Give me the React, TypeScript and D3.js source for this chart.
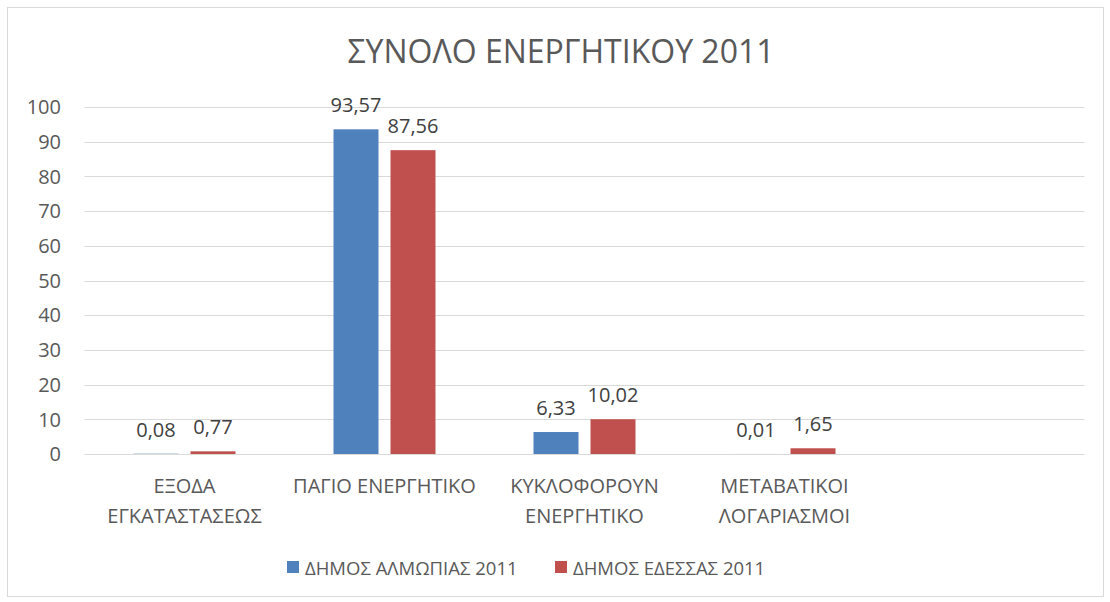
import React from "react";
import * as d3 from "d3";

const categories = [["ΕΞΟΔΑ", "ΕΓΚΑΤΑΣΤΑΣΕΩΣ"], ["ΠΑΓΙΟ ΕΝΕΡΓΗΤΙΚΟ"], ["ΚΥΚΛΟΦΟΡΟΥΝ", "ΕΝΕΡΓΗΤΙΚΟ"], ["ΜΕΤΑΒΑΤΙΚΟΙ", "ΛΟΓΑΡΙΑΣΜΟΙ"], [""]];
const seriesNames = ["ΔΗΜΟΣ ΑΛΜΩΠΙΑΣ 2011", "ΔΗΜΟΣ ΕΔΕΣΣΑΣ 2011"];
const almopiaValues = [0.08, 93.57, 6.33, 0.01];
const edessaValues = [0.77, 87.56, 10.02, 1.65];
const yTicks = [0, 10, 20, 30, 40, 50, 60, 70, 80, 90, 100];
const colors = ["#4f81bd", "#c0504d"];

const W = 1110, H = 602;
const plot = { left: 84.5, right: 1084.5, top: 107, bottom: 454 };
const FONT = "'Open Sans', 'Noto Sans', sans-serif";
const TXT = "#595959";

const locale = d3.formatLocale({ decimal: ",", thousands: ".", grouping: [3], currency: ["", "€"] });
const fmt = locale.format(".2f");

export default function App() {
  const x = d3.scaleBand<number>().domain(d3.range(categories.length)).range([plot.left, plot.right]).padding(0);
  const y = d3.scaleLinear().domain([0, 100]).range([plot.bottom, plot.top]);
  const series = [almopiaValues, edessaValues];
  const inner = d3.scaleBand<number>().domain([0, 1]).range([-51, 51]).paddingInner(12 / 57).paddingOuter(0);

  return (
    <svg width={W} height={H} style={{ position: "absolute", left: 0, top: 0, background: "#fff" }} fontFamily={FONT}>
      <rect x={7.5} y={7.5} width={1096} height={589} fill="#fff" stroke="#d9d9d9" />
      <text x={561} y={63} textAnchor="middle" fontSize={32} fill={TXT}>ΣΥΝΟΛΟ ΕΝΕΡΓΗΤΙΚΟΥ 2011</text>
      {yTicks.map((t) => (
        <g key={t}>
          <line x1={plot.left} x2={plot.right} y1={Math.round(y(t)) + 0.5} y2={Math.round(y(t)) + 0.5} stroke="#d9d9d9" strokeWidth={1.2} />
          <text x={61} y={y(t)} dy="0.36em" textAnchor="end" fontSize={20} fill={TXT}>{t}</text>
        </g>
      ))}
      {series.map((vals, si) =>
        vals.map((v, ci) => {
          const cx = x(ci)! + x.bandwidth() / 2;
          const bx = cx + inner(si)!;
          const bw = inner.bandwidth();
          return (
            <g key={`${si}-${ci}`}>
              <rect x={bx} y={y(v)} width={bw} height={y(0) - y(v)} fill={colors[si]} />
              <text x={bx + bw / 2} y={y(v) - 17} textAnchor="middle" fontSize={20} fill="#404040">{fmt(v)}</text>
            </g>
          );
        })
      )}
      {categories.map((lines, ci) => (
        <text key={ci} x={x(ci)! + x.bandwidth() / 2} y={493} textAnchor="middle" fontSize={20} fill={TXT}>
          {lines.map((l, li) => (
            <tspan key={li} x={x(ci)! + x.bandwidth() / 2} dy={li === 0 ? 0 : 30}>{l}</tspan>
          ))}
        </text>
      ))}
      {seriesNames.map((n, i) => {
        const lx = [287, 555][i];
        return (
          <g key={n}>
            <rect x={lx} y={561} width={12} height={12} fill={colors[i]} />
            <text x={lx + 18} y={575} fontSize={18.5} fill={TXT}>{n}</text>
          </g>
        );
      })}
    </svg>
  );
}
